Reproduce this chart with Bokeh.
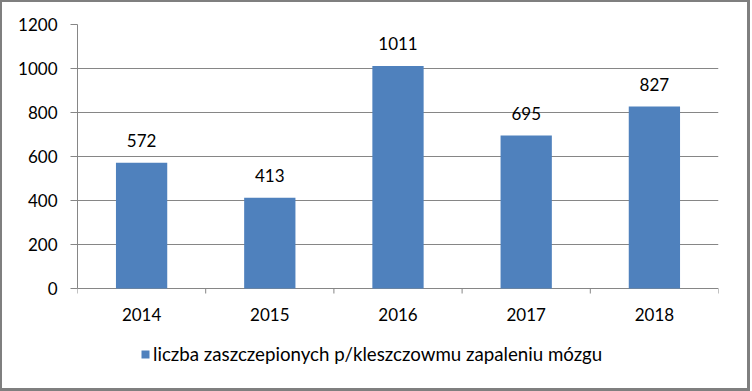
from bokeh.plotting import figure
from bokeh.models import (Range1d, FixedTicker, ColumnDataSource, LabelSet, Legend, LegendItem)
from bokeh.core.properties import value
from bokeh.embed import file_html
from bokeh.resources import INLINE

years = ["2014", "2015", "2016", "2017", "2018"]
values = [572, 413, 1011, 695, 827]
y_ticks = [0, 200, 400, 600, 800, 1000, 1200]
series_name = "liczba zaszczepionych p/kleszczowmu zapaleniu mózgu"

FONT = "Lato"
FS = "17px"
LEG_FS = "18.7px"
GRAY = "#868686"
BAR = "#4F81BD"

# layout geometry (pixels)
W, H = 750, 391
BL, BT = 75, 22
BR, BB = 34, 5
PLOT_PX = 264            # pixels between 0 and the top tick
BELOW_PX = 100           # frame pixels below the value 0
px_per_unit = PLOT_PX / y_ticks[-1]
y_min = -BELOW_PX / px_per_unit
tick_len = 5 / px_per_unit

n = len(years)
centers = [i + 0.5 for i in range(n)]
bounds = list(range(n + 1))
src = ColumnDataSource(dict(x=centers, value=values, label=[str(v) for v in values],
                            zero=[0] * n, year=years))
tsrc = ColumnDataSource(dict(x=bounds, y0=[0] * (n + 1), y1=[-tick_len] * (n + 1)))

p = figure(width=W, height=H, x_range=Range1d(0, n), y_range=Range1d(y_min, y_ticks[-1]),
           x_axis_location=None, output_backend="svg", toolbar_location=None,
           min_border_left=BL, min_border_right=BR, min_border_top=BT, min_border_bottom=BB)
p.styles = {"border-left": "2px solid #7f7f7f", "border-top": "2px solid #7f7f7f",
            "border-right": "3px solid #7f7f7f", "border-bottom": "3px solid #7f7f7f"}
p.outline_line_color = None
p.background_fill_color = "white"
p.border_fill_color = "white"

# y axis
p.yaxis.ticker = FixedTicker(ticks=y_ticks)
p.yaxis.bounds = (y_ticks[0], y_ticks[-1])
p.yaxis.axis_line_color = GRAY
p.yaxis.major_tick_line_color = GRAY
p.yaxis.major_tick_out = 7
p.yaxis.major_tick_in = 0
p.yaxis.minor_tick_line_color = None
p.yaxis.major_label_standoff = 13
p.yaxis.major_label_text_font = FONT
p.yaxis.major_label_text_font_size = FS
p.yaxis.major_label_text_color = "black"
p.ygrid.ticker = FixedTicker(ticks=y_ticks)
p.ygrid.grid_line_color = GRAY
p.xgrid.visible = False

# category boundary tick marks below the zero line
p.segment(x0="x", y0="y0", x1="x", y1="y1", source=tsrc, line_color=GRAY, line_width=1)

r = p.vbar(x="x", top="value", width=0.4, source=src, fill_color=BAR, line_color=None)

labels = LabelSet(x="x", y="value", text="label", source=src, text_align="center",
                  text_baseline="alphabetic", y_offset=16, text_font=value(FONT),
                  text_font_size=value(FS), text_color="black")
p.add_layout(labels)

cat_labels = LabelSet(x="x", y="zero", text="year", source=src, text_align="center",
                      text_baseline="alphabetic", y_offset=-32, text_font=value(FONT),
                      text_font_size=value(FS), text_color="black")
p.add_layout(cat_labels)

legend = Legend(items=[LegendItem(label=series_name, renderers=[r])], location=(63, 23),
                orientation="horizontal", border_line_color=None, background_fill_alpha=0,
                padding=0, margin=0, glyph_width=10, glyph_height=10, label_standoff=3,
                label_height=20, label_text_font=FONT, label_text_font_size=LEG_FS,
                label_text_color="black")
p.add_layout(legend)

open("out.html", "w").write(file_html(p, INLINE))
